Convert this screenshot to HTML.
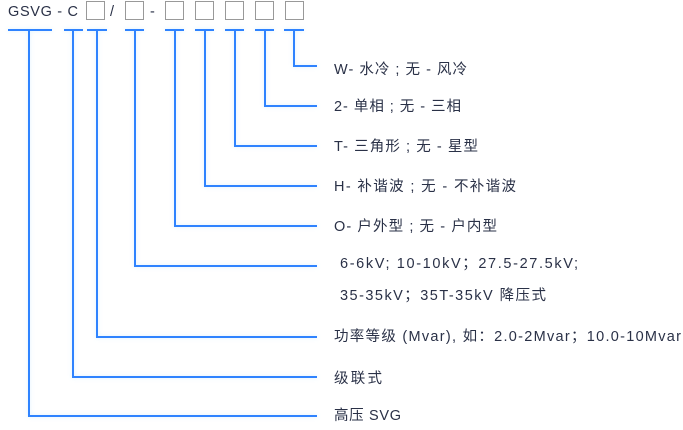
<!DOCTYPE html>
<html><head><meta charset="utf-8"><style>
html,body{margin:0;padding:0;background:#fff;}
svg{display:block}
text{font-family:"Liberation Sans","Noto Sans CJK SC",sans-serif;font-size:14.5px;fill:#2a3147}
</style></head><body>
<svg width="683" height="430" viewBox="0 0 683 430" xmlns="http://www.w3.org/2000/svg">
<defs><filter id="g" x="-20%" y="-20%" width="140%" height="140%"><feGaussianBlur stdDeviation="2"/></filter></defs>
<text x="8" y="16" textLength="70" lengthAdjust="spacing">GSVG - C</text>
<text x="110" y="16">/</text>
<text x="150" y="16">-</text>
<g fill="none" stroke="#999" stroke-width="1">
<rect x="86.5" y="1.5" width="18" height="18"/>
<rect x="125.5" y="1.5" width="18" height="18"/>
<rect x="165.5" y="1.5" width="18" height="18"/>
<rect x="195.5" y="1.5" width="18" height="18"/>
<rect x="225.5" y="1.5" width="18" height="18"/>
<rect x="255.5" y="1.5" width="18" height="18"/>
<rect x="285.5" y="1.5" width="18" height="18"/>
</g>
<g id="ln" fill="none" stroke-width="2">
<path d="M8 30H52M64 30H83M87 30H107M125 30H144M165 30H184M195 30H214M225 30H244M255 30H274M284 30H304"/>
<path d="M29 30V416H317M73 30V377H317M97 30V337H317M135 30V266H317M175 30V226H317M205 30V186H317M235 30V146H317M265 30V106H317M294 30V66H317"/>
</g>
<use href="#ln" stroke="#bfe6ff" filter="url(#g)" opacity="0.6"/>
<use href="#ln" stroke="#2f83ff"/>
<text x="334" y="74" textLength="133" lengthAdjust="spacing">W- 水冷 ; 无 - 风冷</text>
<text x="334" y="111" textLength="127" lengthAdjust="spacing">2- 单相 ; 无 - 三相</text>
<text x="334" y="151" textLength="144" lengthAdjust="spacing">T- 三角形 ; 无 - 星型</text>
<text x="334" y="191" textLength="182" lengthAdjust="spacing">H- 补谐波 ; 无 - 不补谐波</text>
<text x="334" y="231" textLength="163" lengthAdjust="spacing">O- 户外型 ; 无 - 户内型</text>
<text x="340" y="268" textLength="238" lengthAdjust="spacing">6-6kV; 10-10kV；27.5-27.5kV;</text>
<text x="340" y="300" textLength="206" lengthAdjust="spacing">35-35kV；35T-35kV 降压式</text>
<text x="334" y="341" textLength="347" lengthAdjust="spacing">功率等级 (Mvar), 如：2.0-2Mvar；10.0-10Mvar</text>
<text x="334" y="383" textLength="48" lengthAdjust="spacing">级联式</text>
<text x="334" y="420" textLength="67" lengthAdjust="spacing">高压 SVG</text>
</svg>
</body></html>
